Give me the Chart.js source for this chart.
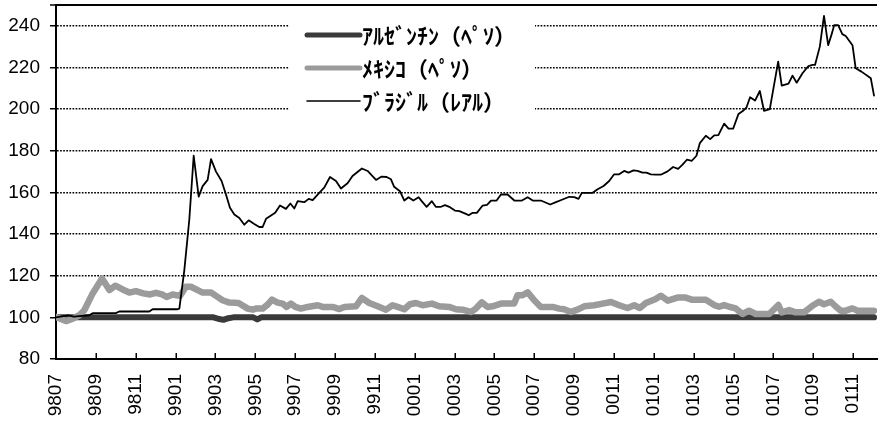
<!DOCTYPE html>
<html>
<head>
<meta charset="utf-8">
<script src="https://cdn.jsdelivr.net/npm/chart.js@4.4.1/dist/chart.umd.min.js"></script>
<style>
html,body{margin:0;padding:0;background:#fff;}
canvas{display:block;}
</style>
</head>
<body>
<canvas id="c" width="879" height="423"></canvas>
<script>
// x positions are months since 1998/07
const tickMonths = [0,2,4,6,8,10,12,14,16,18,20,22,24,26,28,30,32,34,36,38,40];
const tickLabels = ['9807','9809','9811','9901','9903','9905','9907','9909','9911','0001','0003','0005','0007','0009','0011','0101','0103','0105','0107','0109','0111'];
const yTickValues = [80,100,120,140,160,180,200,220,240,250];

const seriesLabels = ['ｱﾙｾﾞﾝﾁﾝ（ﾍﾟｿ）','ﾒｷｼｺ（ﾍﾟｿ）','ﾌﾞﾗｼﾞﾙ（ﾚｱﾙ）'];

const argMonths = [0, 7.9, 8.2, 8.4, 8.65, 8.9, 9.9, 10.1, 10.3, 41.05];
const argValues = [100, 100, 99.2, 98.8, 99.6, 100, 100, 99, 100, 100];

const mexMonths = [
  0, 0.5, 0.84, 1.17, 1.42, 1.84, 2.31, 2.68, 2.98, 3.34,
  3.68, 4.01, 4.38, 4.72, 5.02, 5.32, 5.55, 5.85, 6.22, 6.52,
  6.77, 7.11, 7.36, 7.78, 8.03, 8.36, 8.7, 9.16, 9.62, 9.87,
  10.03, 10.37, 10.62, 10.84, 11.12, 11.37, 11.57, 11.79, 12.01, 12.29,
  12.63, 13.13, 13.38, 13.88, 14.22, 14.47, 15.05, 15.35, 15.72, 16.14,
  16.56, 16.89, 17.14, 17.48, 17.76, 18.06, 18.4, 18.86, 19.23, 19.73,
  20.07, 20.4, 20.82, 21.07, 21.37, 21.66, 21.91, 22.33, 22.99, 23.16,
  23.41, 23.67, 24.0, 24.33, 24.92, 25.25, 25.5, 25.84, 26.17, 26.51,
  27.01, 27.43, 27.85, 28.26, 28.68, 29.02, 29.3, 29.6, 30.07, 30.35,
  30.7, 31.19, 31.6, 31.94, 32.61, 33.03, 33.28, 33.53, 33.78, 34.11,
  34.45, 34.78, 35.12, 35.79, 36.25, 36.42, 36.79, 37.12, 37.54, 37.96,
  38.29, 38.54, 38.88, 39.13, 39.38, 39.63, 39.97, 40.22, 41.05
];
const mexValues = [
  100.2, 98.2, 99.4, 101, 103.4, 111.5, 118.7, 113.1, 115.2, 113.4,
  111.9, 112.6, 111.5, 111, 111.8, 111, 109.8, 111, 110.3, 114.7,
  114.7, 113.1, 111.9, 111.9, 110.3, 108.2, 107.1, 106.9, 104.2, 103.7,
  104.2, 104.2, 106.1, 108.5, 107.1, 106.6, 105, 106.6, 105, 104.2,
  105, 105.8, 105, 105, 104, 105, 105.3, 109.3, 106.9, 105.3,
  103.7, 105.8, 105, 103.9, 106.3, 106.9, 105.8, 106.6, 105.3, 105,
  103.9, 103.7, 102.6, 104.2, 107.2, 105, 105.3, 106.6, 106.6, 110.6,
  110.6, 112, 108.2, 105, 105, 104.2, 103.9, 102.6, 103.7, 105.3,
  105.8, 106.6, 107.4, 105.8, 104.5, 105.8, 104.5, 106.9, 108.7, 110.4,
  108, 109.5, 109.5, 108.4, 108.4, 105.9, 105.1, 105.9, 105.1, 104.3,
  101.6, 103.2, 101.6, 101.6, 105.9, 102.4, 103.5, 102.4, 102.4, 105.6,
  107.5, 106.3, 107.5, 105.2, 103.2, 103.2, 104.3, 103.2, 103.2
];

const braMonths = [
  0, 0.6, 0.9, 1.67, 1.84, 3.0, 3.18, 4.68, 4.85, 6.1,
  6.19, 6.44, 6.69, 6.91, 7.16, 7.36, 7.61, 7.78, 8.03, 8.31,
  8.53, 8.73, 8.95, 9.2, 9.45, 9.67, 9.95, 10.2, 10.37, 10.54,
  10.79, 11.0, 11.24, 11.54, 11.76, 11.96, 12.13, 12.46, 12.68, 12.88,
  13.21, 13.46, 13.75, 14.05, 14.3, 14.63, 14.88, 15.35, 15.64, 15.8,
  16.06, 16.34, 16.59, 16.81, 16.97, 17.26, 17.48, 17.69, 17.93, 18.2,
  18.35, 18.6, 18.86, 19.06, 19.32, 19.52, 19.77, 20.02, 20.24, 20.57,
  20.71, 20.91, 21.12, 21.41, 21.63, 21.83, 22.11, 22.33, 22.66, 23.0,
  23.38, 23.67, 23.92, 24.33, 24.8, 25.09, 25.42, 25.76, 26.01, 26.22,
  26.39, 26.93, 27.18, 27.48, 27.76, 28.01, 28.26, 28.51, 28.73, 28.98,
  29.18, 29.43, 29.63, 29.85, 30.1, 30.35, 30.69, 30.97, 31.22, 31.44,
  31.66, 31.91, 32.14, 32.31, 32.61, 32.83, 33.03, 33.24, 33.53, 33.75,
  33.98, 34.25, 34.48, 34.65, 34.83, 35.08, 35.32, 35.53, 35.82, 36.24,
  36.42, 36.76, 36.96, 37.17, 37.46, 37.76, 37.96, 38.09, 38.33, 38.54,
  38.75, 38.96, 39.05, 39.25, 39.46, 39.63, 39.97, 40.13, 40.42, 40.89,
  41.05
];
const braValues = [
  100, 101, 100.3, 101, 102, 102, 102.8, 102.8, 103.9, 103.9,
  104.2, 122.7, 147, 177.6, 158, 163, 166, 176, 170, 165.5,
  159, 152.6, 149.4, 147.7, 144.5, 146.6, 144.8, 143.4, 143.4, 147.3,
  148.9, 150.2, 153.7, 152.1, 154.7, 152.3, 155.8, 155.3, 156.9, 156.3,
  159.8, 162.3, 167.4, 165.5, 161.9, 164.4, 167.9, 171.5, 170.3, 168.7,
  166, 167.6, 167.4, 166.3, 162.7, 160.6, 156.1, 157.7, 156.1, 157.7,
  155.8, 153.1, 155.8, 153.1, 153.1, 153.9, 152.9, 151.3, 151, 149.7,
  149, 150.2, 150.2, 153.7, 154, 156.1, 156.1, 159, 159, 156.1,
  156.1, 157.7, 156.1, 156.1, 154.2, 155.3, 156.6, 157.9, 157.7, 156.9,
  159.8, 159.8, 161.5, 163.1, 165.5, 168.7, 168.7, 170.3, 169.5, 170.6,
  170.3, 169.5, 169.5, 168.7, 168.5, 168.5, 170.1, 172.2, 171.3, 173.3,
  175.7, 175.2, 177.6, 183.7, 187.2, 185.6, 187.4, 187.5, 193, 190.6,
  190.6, 197.7, 199.2, 200.8, 205.7, 204.1, 208.7, 199.2, 200, 222.8,
  211.3, 212.2, 216.1, 212.7, 217.2, 220.7, 221.2, 221.2, 230, 244.8,
  230.7, 237.1, 240.3, 240.3, 236, 235.1, 230.7, 219.6, 218, 214.8,
  206.5
];

function pairs(xs, ys){ return xs.map((x,i)=>({x:x, y:ys[i]})); }

const TICK_FONT = {family:'"Liberation Sans", Arial, sans-serif', size:19};

const boxLegend = {
  id:'boxLegend',
  beforeDatasetsDraw(chart){
    const ctx = chart.ctx;
    const left = 289, top = 14, w = 246, h = 104;
    ctx.save();
    ctx.fillStyle = '#ffffff';
    ctx.fillRect(left, top, w, h);
    chart.data.datasets.forEach((ds, i) => {
      const y = 35 + i*33;
      ctx.strokeStyle = ds.borderColor;
      ctx.lineWidth = ds.legendLineWidth;
      ctx.lineCap = 'round';
      ctx.beginPath();
      ctx.moveTo(307, y);
      ctx.lineTo(360, y);
      ctx.stroke();
      ctx.fillStyle = '#000';
      ctx.font = 'bold 22px "Noto Sans CJK JP", sans-serif';
      ctx.textAlign = 'left';
      ctx.textBaseline = 'middle';
      ctx.fillText(ds.label, 362, y + 1);
    });
    ctx.restore();
  }
};

const innerXTicks = {
  id:'innerXTicks',
  afterDraw(chart){
    const xs = chart.scales.x;
    const ctx = chart.ctx;
    const bottom = chart.chartArea.bottom;
    ctx.save();
    ctx.strokeStyle = '#000';
    ctx.lineWidth = 1.5;
    xs.ticks.forEach((t, i) => {
      const px = Math.round(xs.getPixelForTick(i)) + 0.25;
      ctx.beginPath();
      ctx.moveTo(px, bottom);
      ctx.lineTo(px, bottom - 6);
      ctx.stroke();
    });
    ctx.restore();
  }
};

new Chart(document.getElementById('c'), {
  type:'line',
  data:{
    datasets:[
      {label:seriesLabels[0], data:pairs(argMonths, argValues), borderColor:'#3a3a3a', borderWidth:6, legendLineWidth:5, order:2},
      {label:seriesLabels[1], data:pairs(mexMonths, mexValues), borderColor:'#9b9b9b', borderWidth:6.5, legendLineWidth:5, order:1},
      {label:seriesLabels[2], data:pairs(braMonths, braValues), borderColor:'#000000', borderWidth:1.8, legendLineWidth:1.6, order:0}
    ]
  },
  options:{
    responsive:false,
    animation:false,
    layout:{autoPadding:false, padding:{top:5, right:2, left:0, bottom:0}},
    elements:{
      point:{radius:0, hoverRadius:0},
      line:{tension:0, borderJoinStyle:'round', borderCapStyle:'round', fill:false}
    },
    plugins:{legend:{display:false}, tooltip:{enabled:false}},
    scales:{
      x:{
        type:'linear', min:0, max:41.2,
        afterBuildTicks:(s)=>{ s.ticks = tickMonths.map(v=>({value:v})); },
        afterFit:(s)=>{ s.height = 64; s.paddingLeft = 0; s.paddingRight = 0; s.paddingTop = 0; s.paddingBottom = 0; },
        ticks:{autoSkip:false, minRotation:90, maxRotation:90, padding:15, color:'#000', font:TICK_FONT,
          callback:(v, i)=> tickLabels[i]},
        grid:{display:false, drawTicks:false},
        border:{display:true, color:'#000', width:2}
      },
      y:{
        min:80, max:250,
        afterBuildTicks:(s)=>{ s.ticks = yTickValues.map(v=>({value:v})); },
        afterFit:(s)=>{ s.width = 56; s.paddingLeft = 0; s.paddingRight = 0; s.paddingTop = 0; s.paddingBottom = 0; },
        ticks:{padding:10, color:'#000', font:TICK_FONT,
          callback:(v)=> v === 250 ? '' : String(v)},
        grid:{
          color:'#000',
          lineWidth:(c)=> (c.tick && c.tick.value === 250) ? 2 : 1.5,
          drawTicks:true, tickLength:6, tickColor:'#000', tickWidth:1.5
        },
        border:{display:true, color:'#000', width:2,
          dash:(c)=> (c.tick && c.tick.value !== 250) ? [1.7,1.4] : []}
      }
    }
  },
  plugins:[boxLegend, innerXTicks]
});
</script>
</body>
</html>
